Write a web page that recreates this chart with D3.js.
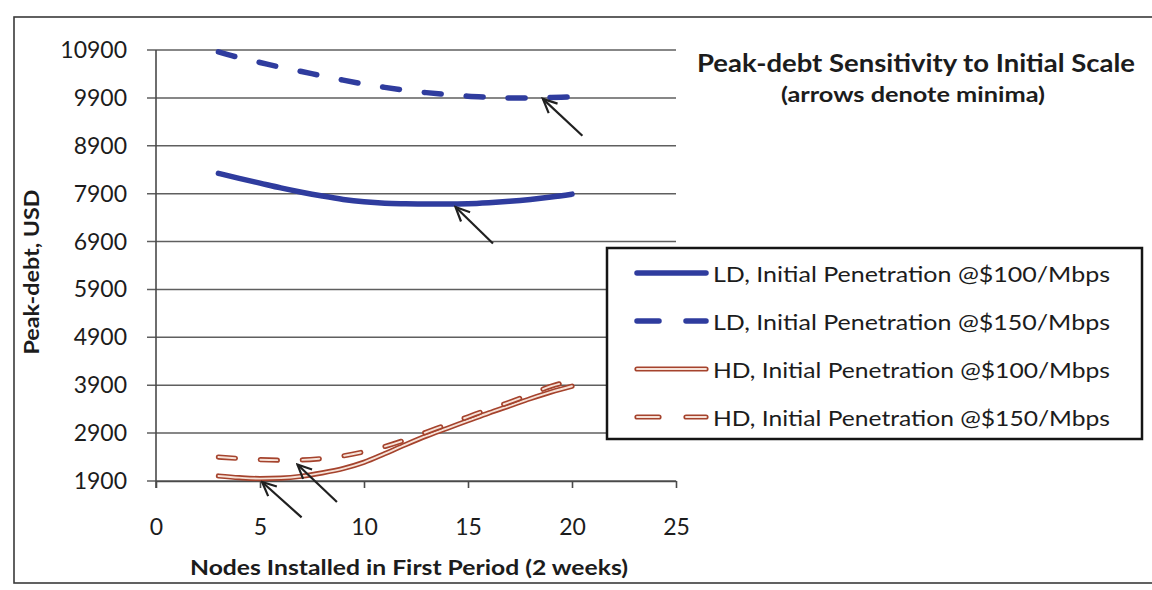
<!DOCTYPE html>
<html>
<head>
<meta charset="utf-8">
<script src="https://cdn.jsdelivr.net/npm/d3@7"></script>
<style>
  html, body { margin: 0; padding: 0; background: #ffffff; }
  svg { display: block; }
  text { font-family: Lato, "Open Sans", sans-serif; fill: #1c1c1c; }
</style>
</head>
<body>
<svg id="chart" width="1152" height="590"></svg>
<script>
// Nodes installed in the first period (x values)
const nodes = [3, 4, 5, 6, 7, 8, 9, 10, 11, 12, 13, 14, 15, 16, 17, 18, 19, 20];

// Peak debt (USD) for each scenario
const ldAt100 = [8325, 8220, 8120, 8020, 7930, 7850, 7780, 7730, 7700, 7690, 7685, 7685, 7690, 7710, 7740, 7780, 7830, 7890];
const ldAt150 = [10860, 10740, 10640, 10540, 10450, 10360, 10270, 10190, 10120, 10060, 10010, 9970, 9935, 9915, 9900, 9900, 9910, 9920];
const hdAt100 = [2005, 1970, 1950, 1960, 2000, 2070, 2160, 2290, 2470, 2660, 2840, 3000, 3160, 3320, 3470, 3620, 3760, 3880];
const hdAt150 = [2400, 2370, 2345, 2335, 2340, 2370, 2425, 2510, 2620, 2760, 2920, 3080, 3240, 3400, 3545, 3710, 3880, 3990];

const seriesLabels = [
  "LD, Initial  Penetration @$100/Mbps",
  "LD, Initial  Penetration @$150/Mbps",
  "HD, Initial Penetration @$100/Mbps",
  "HD, Initial Penetration @$150/Mbps"
];

const xTicks = [0, 5, 10, 15, 20, 25];
const yTicks = [1900, 2900, 3900, 4900, 5900, 6900, 7900, 8900, 9900, 10900];

// Arrows pointing at each curve's minimum: tip and tail in data units
const minimaArrows = [
  { tip: [18.6, 9880], tail: [20.5, 9110] },
  { tip: [14.4, 7620], tail: [16.2, 6860] },
  { tip: [5.1, 1880],  tail: [7.0, 1140] },
  { tip: [6.8, 2245],  tail: [8.7, 1460] }
];

const blue = "#2f3c9e";
const brown = "#a5432d";
const brownFill = "#f6e2d8";

const svg = d3.select("#chart");

const x = d3.scaleLinear().domain([0, 25]).range([156, 676]);
const y = d3.scaleLinear().domain([1900, 10900]).range([481, 50]);

// outer frame
svg.append("rect")
  .attr("x", 14).attr("y", 17)
  .attr("width", 1160).attr("height", 566)
  .attr("fill", "none").attr("stroke", "#3a3a3a").attr("stroke-width", 1.6);

// horizontal gridlines with short outward ticks
svg.append("g").selectAll("line").data(yTicks).join("line")
  .attr("x1", x(0) - 9).attr("x2", x(25))
  .attr("y1", d => y(d)).attr("y2", d => y(d))
  .attr("stroke", "#5f5f5f").attr("stroke-width", 1.5);

// y tick labels
svg.append("g").selectAll("text").data(yTicks).join("text")
  .attr("x", 127).attr("y", d => y(d))
  .attr("dy", "0.35em")
  .attr("text-anchor", "end")
  .attr("font-size", 23)
  .text(d => d);

// y axis line
svg.append("line")
  .attr("x1", x(0)).attr("x2", x(0))
  .attr("y1", y(10900)).attr("y2", y(1900) + 7)
  .attr("stroke", "#4a4a4a").attr("stroke-width", 1.6);

// x axis
const xAxis = svg.append("g")
  .attr("transform", `translate(0,${y(1900)})`)
  .call(d3.axisBottom(x).tickValues(xTicks).tickSize(7).tickSizeOuter(0).tickFormat(d3.format("d")));
xAxis.select(".domain").attr("stroke", "#4a4a4a").attr("stroke-width", 1.6);
xAxis.selectAll(".tick line").attr("stroke", "#4a4a4a").attr("stroke-width", 1.6);
xAxis.selectAll(".tick text")
  .attr("y", 0).attr("dy", 0)
  .attr("transform", "translate(0,54)")
  .style("font-family", "Lato, 'Open Sans', sans-serif")
  .attr("font-size", 23)
  .attr("fill", "#1c1c1c");

// axis titles
svg.append("text")
  .attr("x", 409).attr("y", 575)
  .attr("text-anchor", "middle")
  .attr("font-size", 21).attr("font-weight", 700)
  .attr("textLength", 438).attr("lengthAdjust", "spacingAndGlyphs")
  .text("Nodes Installed in First Period (2 weeks)");

svg.append("text")
  .attr("transform", "translate(39,272) rotate(-90)")
  .attr("text-anchor", "middle")
  .attr("font-size", 21).attr("font-weight", 700)
  .attr("textLength", 165).attr("lengthAdjust", "spacingAndGlyphs")
  .text("Peak-debt, USD");

// chart title
svg.append("text")
  .attr("x", 916).attr("y", 72)
  .attr("text-anchor", "middle")
  .attr("font-size", 24).attr("font-weight", 700)
  .attr("textLength", 438).attr("lengthAdjust", "spacingAndGlyphs")
  .text("Peak-debt Sensitivity to Initial Scale");

svg.append("text")
  .attr("x", 913).attr("y", 102)
  .attr("text-anchor", "middle")
  .attr("font-size", 21).attr("font-weight", 700)
  .attr("textLength", 264).attr("lengthAdjust", "spacingAndGlyphs")
  .text("(arrows denote minima)");

// series
const line = d3.line()
  .x(d => x(d[0]))
  .y(d => y(d[1]))
  .curve(d3.curveMonotoneX);

const series = [
  { values: ldAt100, kind: "ld", dash: null },
  { values: ldAt150, kind: "ld", dash: "17,25" },
  { values: hdAt100, kind: "hd", dash: null },
  { values: hdAt150, kind: "hd", dash: "17,25" }
];

const plot = svg.append("g");
series.forEach(s => {
  const pts = nodes.map((n, i) => [n, s.values[i]]);
  if (s.kind === "ld") {
    plot.append("path").datum(pts)
      .attr("d", line)
      .attr("fill", "none").attr("stroke", blue)
      .attr("stroke-width", 5.5).attr("stroke-linecap", "round")
      .attr("stroke-dasharray", s.dash);
  } else {
    plot.append("path").datum(pts)
      .attr("d", line)
      .attr("fill", "none").attr("stroke", brown)
      .attr("stroke-width", 5.2).attr("stroke-linecap", "round")
      .attr("stroke-dasharray", s.dash);
    plot.append("path").datum(pts)
      .attr("d", line)
      .attr("fill", "none").attr("stroke", brownFill)
      .attr("stroke-width", 1.9).attr("stroke-linecap", "round")
      .attr("stroke-dasharray", s.dash);
  }
});

// arrowhead marker
svg.append("defs").append("marker")
  .attr("id", "openHead")
  .attr("viewBox", "-16 -9 18 18")
  .attr("refX", 0).attr("refY", 0)
  .attr("markerWidth", 18).attr("markerHeight", 18)
  .attr("markerUnits", "userSpaceOnUse")
  .attr("orient", "auto")
  .append("path")
  .attr("d", "M-14,-6.5 L0,0 L-14,6.5")
  .attr("fill", "none").attr("stroke", "#202020").attr("stroke-width", 2.2);

svg.append("g").selectAll("line").data(minimaArrows).join("line")
  .attr("x1", d => x(d.tail[0])).attr("y1", d => y(d.tail[1]))
  .attr("x2", d => x(d.tip[0])).attr("y2", d => y(d.tip[1]))
  .attr("stroke", "#202020").attr("stroke-width", 2.2)
  .attr("marker-end", "url(#openHead)");

// legend
const legend = svg.append("g");
legend.append("rect")
  .attr("x", 607).attr("y", 248)
  .attr("width", 535).attr("height", 191)
  .attr("fill", "#ffffff").attr("stroke", "#151515").attr("stroke-width", 2.5);

const rowY = d3.scalePoint().domain(d3.range(seriesLabels.length)).range([273, 417]);
series.forEach((s, i) => {
  const yy = rowY(i);
  const legDash = s.dash ? "22,27" : null;
  if (s.kind === "ld") {
    legend.append("line")
      .attr("x1", 637).attr("x2", 706).attr("y1", yy).attr("y2", yy)
      .attr("stroke", blue).attr("stroke-width", 5.5)
      .attr("stroke-linecap", "round").attr("stroke-dasharray", legDash);
  } else {
    legend.append("line")
      .attr("x1", 637).attr("x2", 706).attr("y1", yy).attr("y2", yy)
      .attr("stroke", brown).attr("stroke-width", 5.2)
      .attr("stroke-linecap", "round").attr("stroke-dasharray", legDash);
    legend.append("line")
      .attr("x1", 637).attr("x2", 706).attr("y1", yy).attr("y2", yy)
      .attr("stroke", brownFill).attr("stroke-width", 1.9)
      .attr("stroke-linecap", "round").attr("stroke-dasharray", legDash);
  }
  legend.append("text")
    .attr("x", 713).attr("y", yy + 9)
    .attr("font-size", 20.5)
    .attr("textLength", 397).attr("lengthAdjust", "spacingAndGlyphs")
    .text(seriesLabels[i]);
});
</script>
</body>
</html>
